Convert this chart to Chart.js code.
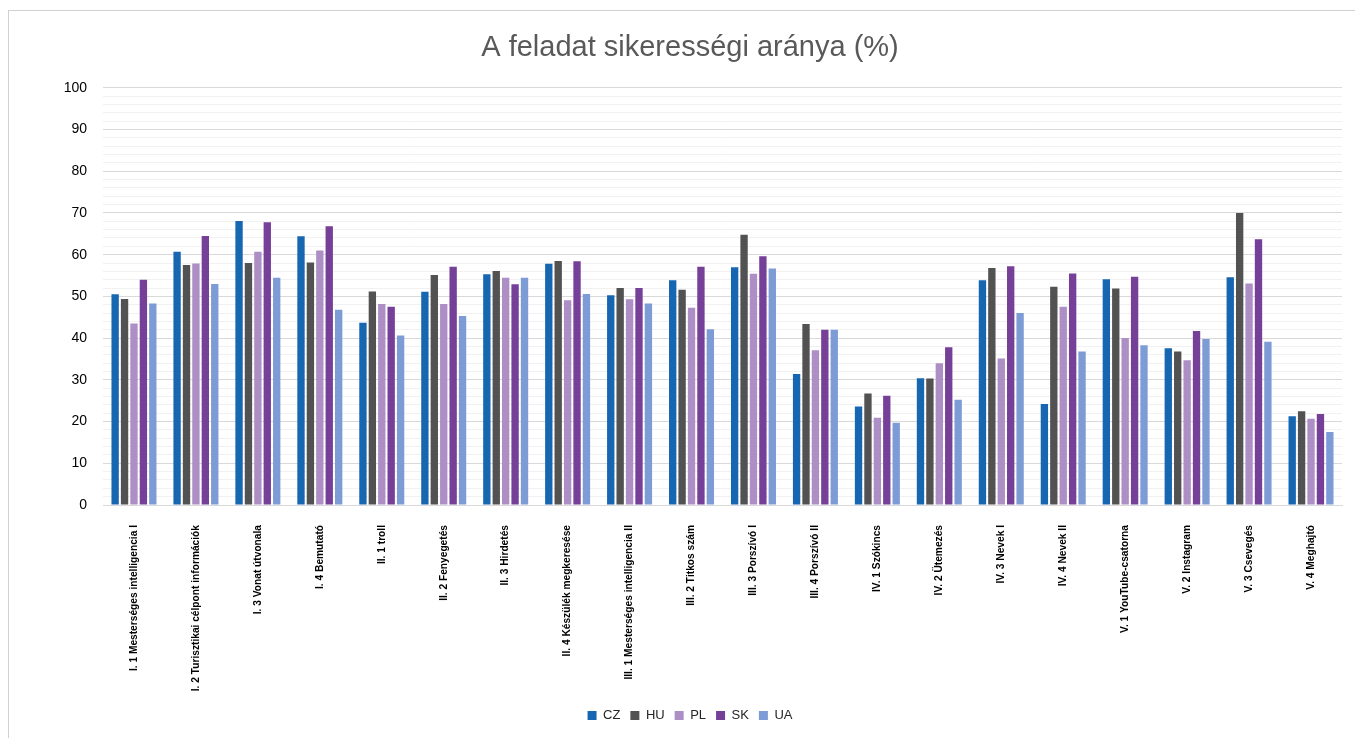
<!DOCTYPE html>
<html>
<head>
<meta charset="utf-8">
<script src="https://cdn.jsdelivr.net/npm/chart.js@4.4.1/dist/chart.umd.min.js"></script>
<style>
  html, body { margin: 0; padding: 0; background: #ffffff; }
  #wrap { position: absolute; left: 0; top: 0; width: 1355px; height: 738px; }
  #frame { position: absolute; left: 8px; top: 10px; width: 1360px; height: 740px; border-top: 1px solid #d0d0d0; border-left: 1px solid #d0d0d0; box-sizing: border-box; pointer-events: none; }
</style>
</head>
<body>
<div id="wrap"><canvas id="c" width="1355" height="738"></canvas></div>
<div id="frame"></div>
<script>
const categories = [
  "I. 1 Mesterséges intelligencia I",
  "I. 2 Turisztikai célpont információk",
  "I. 3 Vonat útvonala",
  "I. 4 Bemutató",
  "II. 1 troll",
  "II. 2 Fenyegetés",
  "II. 3 Hirdetés",
  "II. 4 Készülék megkeresése",
  "III. 1 Mesterséges intelligencia II",
  "III. 2 Titkos szám",
  "III. 3 Porszívó I",
  "III. 4 Porszívó II",
  "IV. 1 Szókincs",
  "IV. 2 Ütemezés",
  "IV. 3 Nevek I",
  "IV. 4 Nevek II",
  "V. 1 YouTube-csatorna",
  "V. 2 Instagram",
  "V. 3 Csevegés",
  "V. 4 Meghajtó"
];
const CZ = [50.5, 60.7, 68.1, 64.4, 43.7, 51.1, 55.3, 57.8, 50.3, 53.9, 57.0, 31.4, 23.6, 30.4, 53.9, 24.2, 54.1, 37.6, 54.6, 21.3];
const HU = [49.4, 57.5, 58.0, 58.1, 51.2, 55.1, 56.1, 58.5, 52.0, 51.6, 64.8, 43.4, 26.7, 30.3, 56.8, 52.3, 51.9, 36.8, 70.0, 22.5];
const PL = [43.5, 57.9, 60.7, 61.0, 48.2, 48.2, 54.5, 49.1, 49.3, 47.3, 55.4, 37.1, 20.9, 34.0, 35.1, 47.5, 40.0, 34.7, 53.1, 20.7];
const SK = [54.0, 64.5, 67.8, 66.8, 47.5, 57.1, 52.9, 58.4, 52.0, 57.1, 59.6, 42.0, 26.2, 37.8, 57.2, 55.5, 54.7, 41.7, 63.7, 21.8];
const UA = [48.3, 53.0, 54.5, 46.8, 40.6, 45.3, 54.5, 50.6, 48.3, 42.1, 56.7, 42.0, 19.7, 25.2, 46.0, 36.8, 38.3, 39.8, 39.1, 17.5];
const seriesNames = ["CZ", "HU", "PL", "SK", "UA"];
const yTicks = [0, 10, 20, 30, 40, 50, 60, 70, 80, 90, 100];
const titleText = "A feladat sikerességi aránya (%)";

const colors = ["#1666b2", "#525252", "#ad8ec5", "#763f98", "#7d9cd5"];
const values = [CZ, HU, PL, SK, UA];
const FONT = "'Liberation Sans', Arial, sans-serif";

new Chart(document.getElementById('c'), {
  type: 'bar',
  data: {
    labels: categories,
    datasets: seriesNames.map((n, i) => ({
      label: n,
      data: values[i],
      backgroundColor: colors[i],
      borderWidth: 0,
      categoryPercentage: 0.76,
      barPercentage: 0.78
    }))
  },
  options: {
    responsive: false,
    animation: false,
    layout: { padding: { left: 38, right: 13, top: 0, bottom: 6 } },
    plugins: {
      title: {
        display: true,
        text: titleText,
        color: '#595959',
        font: { family: FONT, size: 29, weight: 'normal' },
        padding: { top: 31, bottom: 22 }
      },
      legend: {
        position: 'bottom',
        labels: {
          boxWidth: 9, boxHeight: 9, padding: 10,
          color: '#262626',
          font: { family: FONT, size: 13 }
        }
      },
      tooltip: { enabled: false }
    },
    scales: {
      x: {
        grid: { display: false },
        border: { display: true, color: '#d9d9d9' },
        afterFit: (s) => { s.height = 194; },
        ticks: {
          autoSkip: false, maxRotation: 90, minRotation: 90,
          color: '#000000', padding: 12,
          font: { family: FONT, size: 10.2, weight: 'bold' }
        }
      },
      y: {
        min: 0, max: 100,
        border: { display: false },
        afterFit: (s) => { s.width = 65; },
        grid: {
          drawTicks: false,
          color: (ctx) => (ctx.tick && yTicks.includes(ctx.tick.value)) ? '#d9d9d9' : '#f1f1f1',
          lineWidth: 1
        },
        ticks: {
          stepSize: 2, autoSkip: false, padding: 16,
          color: '#000000',
          font: { family: FONT, size: 14 },
          callback: (v) => yTicks.includes(v) ? String(v) : ''
        }
      }
    }
  }
});
</script>
</body>
</html>
